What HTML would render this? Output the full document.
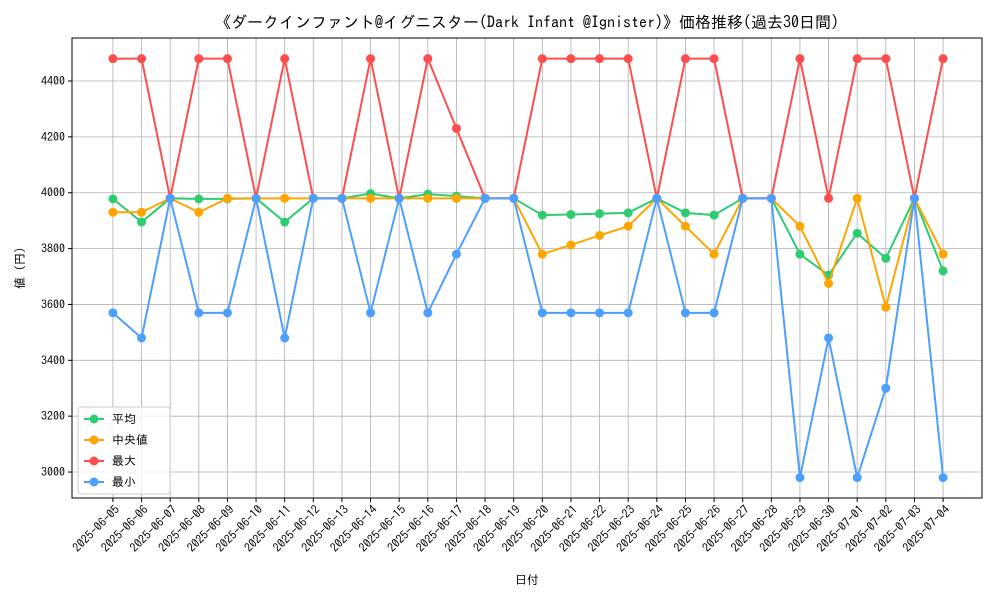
<!DOCTYPE html>
<html><head><meta charset="utf-8"><style>
body{margin:0;background:#fff;}
svg{display:block;font-family:"IPAGothic","Noto Sans CJK JP","Liberation Mono",monospace;}
</style></head><body>
<svg id="chart" width="1000" height="600" viewBox="0 0 1000 600">
<rect width="1000" height="600" fill="#fff"/>
<text x="527" y="28" text-anchor="middle" font-size="16" fill="#000">《ダークインファント@イグニスター(Dark Infant @Ignister)》価格推移(過去30日間)</text>
<g id="grid"></g><g id="axes"></g><g id="series"></g>
<text x="527" y="584" text-anchor="middle" font-size="12">日付</text>
<text transform="translate(24,268) rotate(-90)" text-anchor="middle" font-size="12">値 (円)</text>
</svg>
<script>
const dates=["2025-06-05","2025-06-06","2025-06-07","2025-06-08","2025-06-09","2025-06-10","2025-06-11","2025-06-12","2025-06-13","2025-06-14","2025-06-15","2025-06-16","2025-06-17","2025-06-18","2025-06-19","2025-06-20","2025-06-21","2025-06-22","2025-06-23","2025-06-24","2025-06-25","2025-06-26","2025-06-27","2025-06-28","2025-06-29","2025-06-30","2025-07-01","2025-07-02","2025-07-03","2025-07-04"];
const meanVals=[3978,3895,3980,3978,3978,3980,3895,3980,3980,3997,3980,3995,3988,3980,3980,3920,3922,3925,3928,3980,3928,3920,3980,3980,3780,3705,3855,3765,3980,3720];
const medianVals=[3930,3930,3980,3930,3980,3980,3980,3980,3980,3980,3980,3980,3980,3980,3980,3780,3813,3847,3880,3980,3880,3780,3980,3980,3880,3675,3980,3590,3980,3780];
const maxVals=[4480,4480,3980,4480,4480,3980,4480,3980,3980,4480,3980,4480,4230,3980,3980,4480,4480,4480,4480,3980,4480,4480,3980,3980,4480,3980,4480,4480,3980,4480];
const minVals=[3570,3480,3980,3570,3570,3980,3480,3980,3980,3570,3980,3570,3780,3980,3980,3570,3570,3570,3570,3980,3570,3570,3980,3980,2980,3480,2980,3300,3980,2980];
const yTicks=[3000,3200,3400,3600,3800,4000,4200,4400];
const seriesNames=["平均","中央値","最大","最小"];
const seriesColors=["#2ecc71","#ffa500","#ff4d4d","#4d9fff"];

const L=72,R=982,T=38,B=498;
const yMin=2907,yMax=4554,xMin=-1.43,xMax=30.36;
const xs=i=>L+(i-xMin)/(xMax-xMin)*(R-L);
const ys=v=>B-(v-yMin)/(yMax-yMin)*(B-T);
const NS="http://www.w3.org/2000/svg";
function mk(tag,attrs,parent){const e=document.createElementNS(NS,tag);for(const k in attrs)e.setAttribute(k,attrs[k]);parent.appendChild(e);return e;}
const grid=document.getElementById('grid'),axes=document.getElementById('axes'),ser=document.getElementById('series');
dates.forEach((d,i)=>{
  const x=xs(i);
  const g=mk('line',{x1:x,x2:x,y1:T,y2:B,stroke:'#b0b0b0','stroke-width':0.8},grid);
  
  
  mk('line',{x1:x,x2:x,y1:B,y2:B+4,stroke:'#000'},axes);
  const t=mk('text',{x:x+3,y:B+14,'text-anchor':'end','font-size':12,transform:`rotate(-45 ${x+3} ${B+8})`},axes);
  t.textContent=d;
  
  
});
yTicks.forEach(v=>{
  const y=ys(v);
  const g=mk('line',{x1:L,x2:R,y1:y,y2:y,stroke:'#b0b0b0','stroke-width':0.8},grid);
  
  
  mk('line',{x1:L-4,x2:L,y1:y,y2:y,stroke:'#000'},axes);
  const t=mk('text',{x:L-7,y:y+4,'text-anchor':'end','font-size':12},axes);
  t.textContent=v;
  
  
});
const fr=mk('rect',{x:L,y:T,width:R-L,height:B-T,fill:'none',stroke:'#000','stroke-width':1},axes);


const allVals=[meanVals,medianVals,maxVals,minVals];
const keys=['mean','median','max','min'];
allVals.forEach((vals,s)=>{
  const g=mk('g',{},ser);
  
  
  const p=mk('polyline',{points:vals.map((v,i)=>xs(i)+','+ys(v)).join(' '),fill:'none',stroke:seriesColors[s],'stroke-width':2},g);
  
  
  vals.forEach((v,i)=>{
    const c=mk('circle',{cx:xs(i),cy:ys(v),r:4.5,fill:seriesColors[s]},g);
    
    
  });
});
const lg=mk('g',{},ser);


mk('rect',{x:78,y:407,width:92,height:87,rx:3,fill:'#fff','fill-opacity':0.8,stroke:'#ccc'},lg);
seriesNames.forEach((n,s)=>{
  const y=419+s*21;
  const e=mk('g',{},lg);
  
  
  mk('line',{x1:84,x2:104,y1:y,y2:y,stroke:seriesColors[s],'stroke-width':2},e);
  mk('circle',{cx:94,cy:y,r:4.5,fill:seriesColors[s]},e);
  const t=mk('text',{x:112,y:y+4,'font-size':12},e);
  t.textContent=n;
});
</script>
</body></html>
